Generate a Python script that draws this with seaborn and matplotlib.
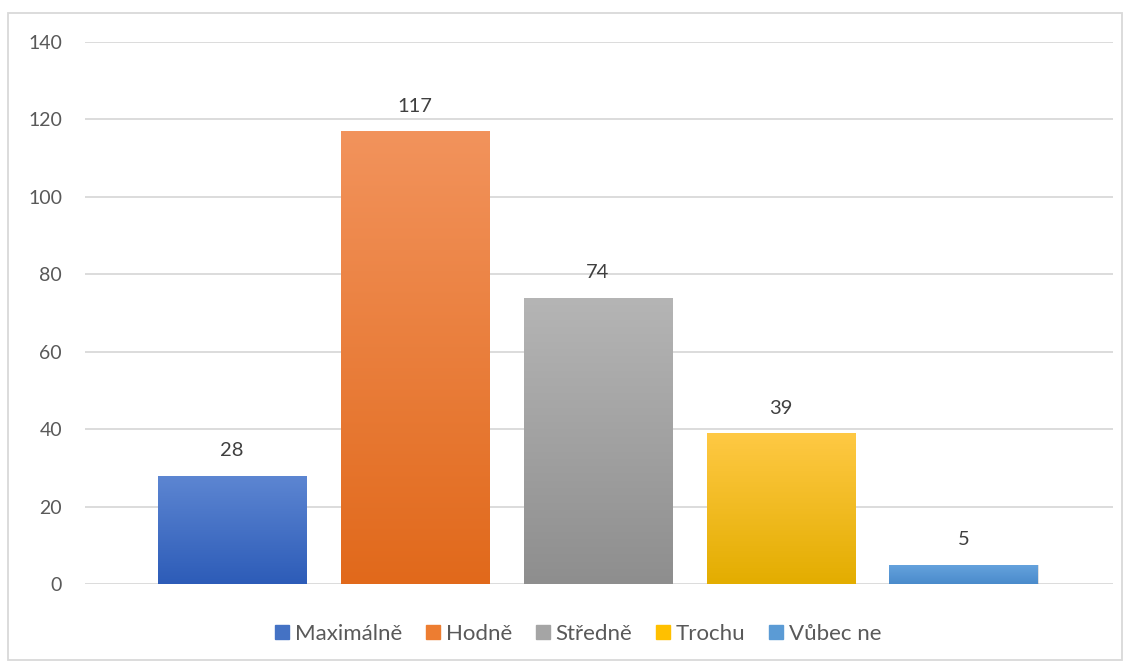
import numpy as np
import pandas as pd
import matplotlib
matplotlib.use("Agg")
import matplotlib.pyplot as plt
from matplotlib.lines import Line2D
from matplotlib.patches import Rectangle
from matplotlib.colors import LinearSegmentedColormap
import seaborn as sns

categories = ["Maximálně", "Hodně", "Středně", "Trochu", "Vůbec ne"]
values = [28, 117, 74, 39, 5]
y_ticks = [0, 20, 40, 60, 80, 100, 120, 140]

top_colors = ["#5d86d2", "#f2935c", "#b5b5b5", "#ffc944", "#66a3de"]
bottom_colors = ["#2d5cb8", "#e1691b", "#8e8e8e", "#e3ad00", "#4a8bcb"]
mid_colors = ["#4472c4", "#ed7d31", "#a5a5a5", "#ffc000", "#5b9bd5"]

sns.set_theme(style="white")
plt.rcParams["font.family"] = ["Lato", "DejaVu Sans"]

W, H = 1131, 666
fig = plt.figure(figsize=(W / 100, H / 100), dpi=100)
ax = fig.add_axes([85 / W, (H - 584) / H, (1113 - 85) / W, (584 - 42) / H])

df = pd.DataFrame({"cat": categories, "val": values})
sns.barplot(data=df, x="cat", y="val", hue="cat", palette=mid_colors,
            order=categories, hue_order=categories, dodge=False,
            width=0.809, legend=False, ax=ax, zorder=3)

ax.set_xticks([])
ax.set_xlabel("")
ax.set_ylabel("")
ax.set_yticks(y_ticks)
for s in ax.spines.values():
    s.set_visible(False)
ax.grid(axis="y", color="#d9d9d9", linewidth=1.3, zorder=0)
ax.set_axisbelow(True)
ax.tick_params(axis="y", length=0, pad=16.5, labelsize=14, labelcolor="#595959")

# gradient fills
grad = np.linspace(0, 1, 256).reshape(-1, 1)
for i, p in enumerate(ax.patches[:len(values)]):
    x0, y0 = p.get_x(), p.get_y()
    w, h = p.get_width(), p.get_height()
    cmap = LinearSegmentedColormap.from_list("g", [bottom_colors[i], top_colors[i]])
    sh = Rectangle((x0 + 0.006, y0), w, h, facecolor="#000000", alpha=0.12,
                   edgecolor="none", zorder=2.5, transform=ax.transData)
    ax.add_patch(sh)
    p.set_facecolor("none")
    p.set_edgecolor("none")
    im = ax.imshow(grad, cmap=cmap, extent=[x0, x0 + w, y0, y0 + h],
                   origin="lower", aspect="auto", zorder=3)
    im.set_clip_path(p)
    ax.text(x0 + w / 2, values[i] + 4.2, str(values[i]), ha="center", va="bottom",
            fontsize=14.5, color="#404040", zorder=4)

ax.set_xlim(-0.801, 4.817)
ax.set_ylim(0, 140)

handles = [Line2D([0], [0], marker="s", linestyle="none", markersize=9.5,
                  markerfacecolor=c, markeredgecolor=c) for c in mid_colors]
fig.legend(handles, categories, loc="center", bbox_to_anchor=(578.5 / W, (H - 634) / H),
           ncol=5, frameon=False, fontsize=16, labelcolor="#595959",
           handletextpad=0.26, columnspacing=1.1, handlelength=0.6)

border = Rectangle((8 / W, (H - 660) / H), (1122 - 8) / W, (660 - 13) / H,
                   transform=fig.transFigure, fill=False, edgecolor="#d9d9d9",
                   linewidth=1.3)
fig.add_artist(border)

fig.savefig("out.png", dpi=100, facecolor="white")
